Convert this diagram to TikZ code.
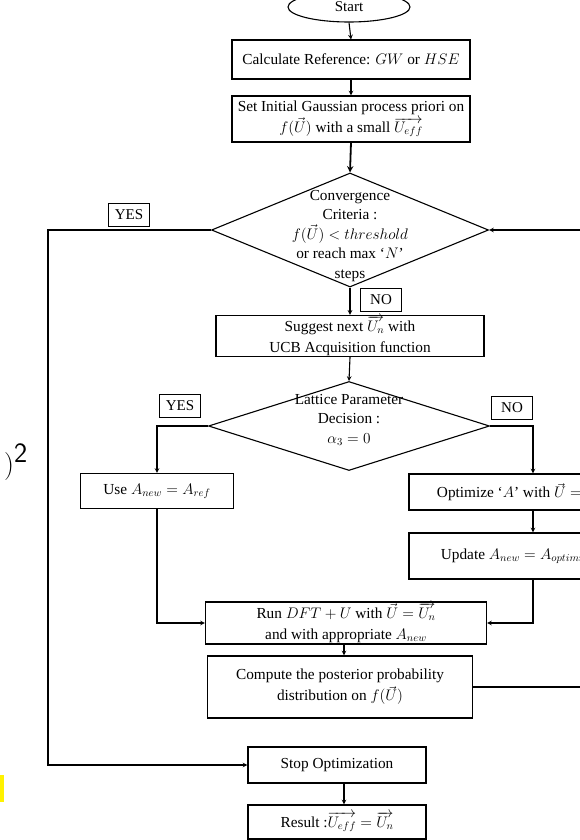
\documentclass[tikz,border=0pt]{standalone}
\usepackage{fix-cm}
\usepackage{fontspec}
\setmainfont{Liberation Serif}
\usetikzlibrary{shapes.geometric}

\tikzset{
  stepbox/.style={draw, rectangle, line width=1.1pt, inner sep=1pt, align=center,
    font=\fontsize{15.3}{21}\selectfont},
  decision/.style={draw, diamond, line width=1.1pt, inner sep=0pt},
  decisiontext/.style={align=center, inner sep=0pt, font=\fontsize{15.3}{19.5}\selectfont},
  tag/.style={draw, rectangle, line width=1.1pt, minimum width=41pt, minimum height=23pt,
    inner sep=1pt, font=\fontsize{15}{17}\selectfont},
  flow/.style={->, line width=1.1pt},
}

\begin{document}
\begin{tikzpicture}[x=1pt, y=-1pt, >=stealth]
  \useasboundingbox (0,0) rectangle (580,840);
  \clip (0,0) rectangle (580,840);

  \coordinate (leftrail) at (48,0);
  \coordinate (rightrail) at (600,0);
  \coordinate (rightbranch) at (533,0);
  \coordinate (spine) at (344,0);

  % main column
  \node[draw, ellipse, line width=1.1pt, minimum width=122pt, minimum height=30pt,
    inner sep=0pt, font=\fontsize{15}{17}\selectfont] (start) at (349,7) {Start};
  \node[stepbox, minimum width=238pt, minimum height=39pt] (calc) at (351,59.5)
    {Calculate Reference: $GW$ or $HSE$};
  \node[stepbox, minimum width=238pt, minimum height=46pt] (prior) at (351,119)
    {Set Initial Gaussian process priori on\\$f(\vec{U})$ with a small $\overrightarrow{U_{eff}}$};
  \node[decision, minimum width=277pt, minimum height=114pt] (conv) at (350,230) {};
  \node[decisiontext] (convtext) at (350,236)
    {Convergence\\Criteria :\\$f(\vec{U}) < threshold$\\or reach max `$N$'\\steps};
  \node[stepbox, minimum width=268pt, minimum height=40pt] (suggest) at (350,336)
    {Suggest next $\overrightarrow{U_n}$ with\\UCB Acquisition function};
  \node[decision, minimum width=281pt, minimum height=89pt] (lattice) at (349,426) {};
  \node[decisiontext] (latticetext) at (349,420)
    {Lattice Parameter\\Decision :\\$\alpha_3 = 0$};

  % branches
  \node[stepbox, minimum width=153pt, minimum height=35pt] (use) at (157,491)
    {Use $A_{new} = A_{ref}$};
  \node[stepbox, minimum width=222pt, minimum height=36pt] (optimize) at (520,492)
    {Optimize `$A$' with $\vec{U} = \overrightarrow{U_n}$};
  \node[stepbox, minimum width=222pt, minimum height=46pt] (update) at (520,556)
    {Update $A_{new} = A_{optimized}$};
  \node[stepbox, minimum width=281pt, minimum height=42pt] (run) at (346,623)
    {Run $DFT + U$ with $\vec{U} = \overrightarrow{U_n}$\\and with appropriate $A_{new}$};
  \node[stepbox, minimum width=265pt, minimum height=62pt] (compute) at (340,687)
    {Compute the posterior probability\\distribution on $f(\vec{U})$};
  \node[stepbox, minimum width=178pt, minimum height=36pt] (stop) at (337,765)
    {Stop Optimization};
  \node[stepbox, minimum width=178pt, minimum height=34pt] (result) at (337,822)
    {Result :$\overrightarrow{U_{eff}} = \overrightarrow{U_n}$};
  \coordinate (resultout) at (344,850);

  % yes / no tags
  \node[tag] (yesconv) at (129,215) {YES};
  \node[tag] (noconv) at (381,300) {NO};
  \node[tag] (yeslat) at (180,406) {YES};
  \node[tag] (nolat) at (512,408) {NO};

  % cut-off pieces at the left edge
  \node[anchor=west, inner sep=0pt, font=\fontsize{28}{30}\selectfont] (eqtail) at (4,462)
    {$)^{\textsf{2}}$};
  \fill[yellow] (0,775) rectangle (4,802);

  % connectors
  \draw[flow] (start.south) -- (calc.north);
  \draw[flow] (calc.south) -- (prior.north);
  \draw[flow, line width=1.8pt] (prior.south) -- (conv.north);
  \draw[flow] (conv.south) -- (suggest.north);
  \draw[flow] (suggest.south) -- (lattice.north);
  \draw[flow] (lattice.west) -| (use.north);
  \draw[flow] (lattice.east) -| (optimize.north -| rightbranch);
  \draw[flow] (optimize.south -| rightbranch) -- (update.north -| rightbranch);
  \draw[flow] (use.south) |- (run.west);
  \draw[flow] (update.south -| rightbranch) |- (run.east);
  \draw[flow] (run.south -| spine) -- (compute.north -| spine);
  \draw[flow] (compute.east) -- (compute.east -| rightrail) |- (conv.east);
  \draw[flow] (conv.west) -- (conv.west -| leftrail) |- (stop.west);
  \draw[flow] (stop.south -| spine) -- (result.north -| spine);
  \draw[line width=1.1pt] (result.south -| spine) -- (resultout);
\end{tikzpicture}
\end{document}
